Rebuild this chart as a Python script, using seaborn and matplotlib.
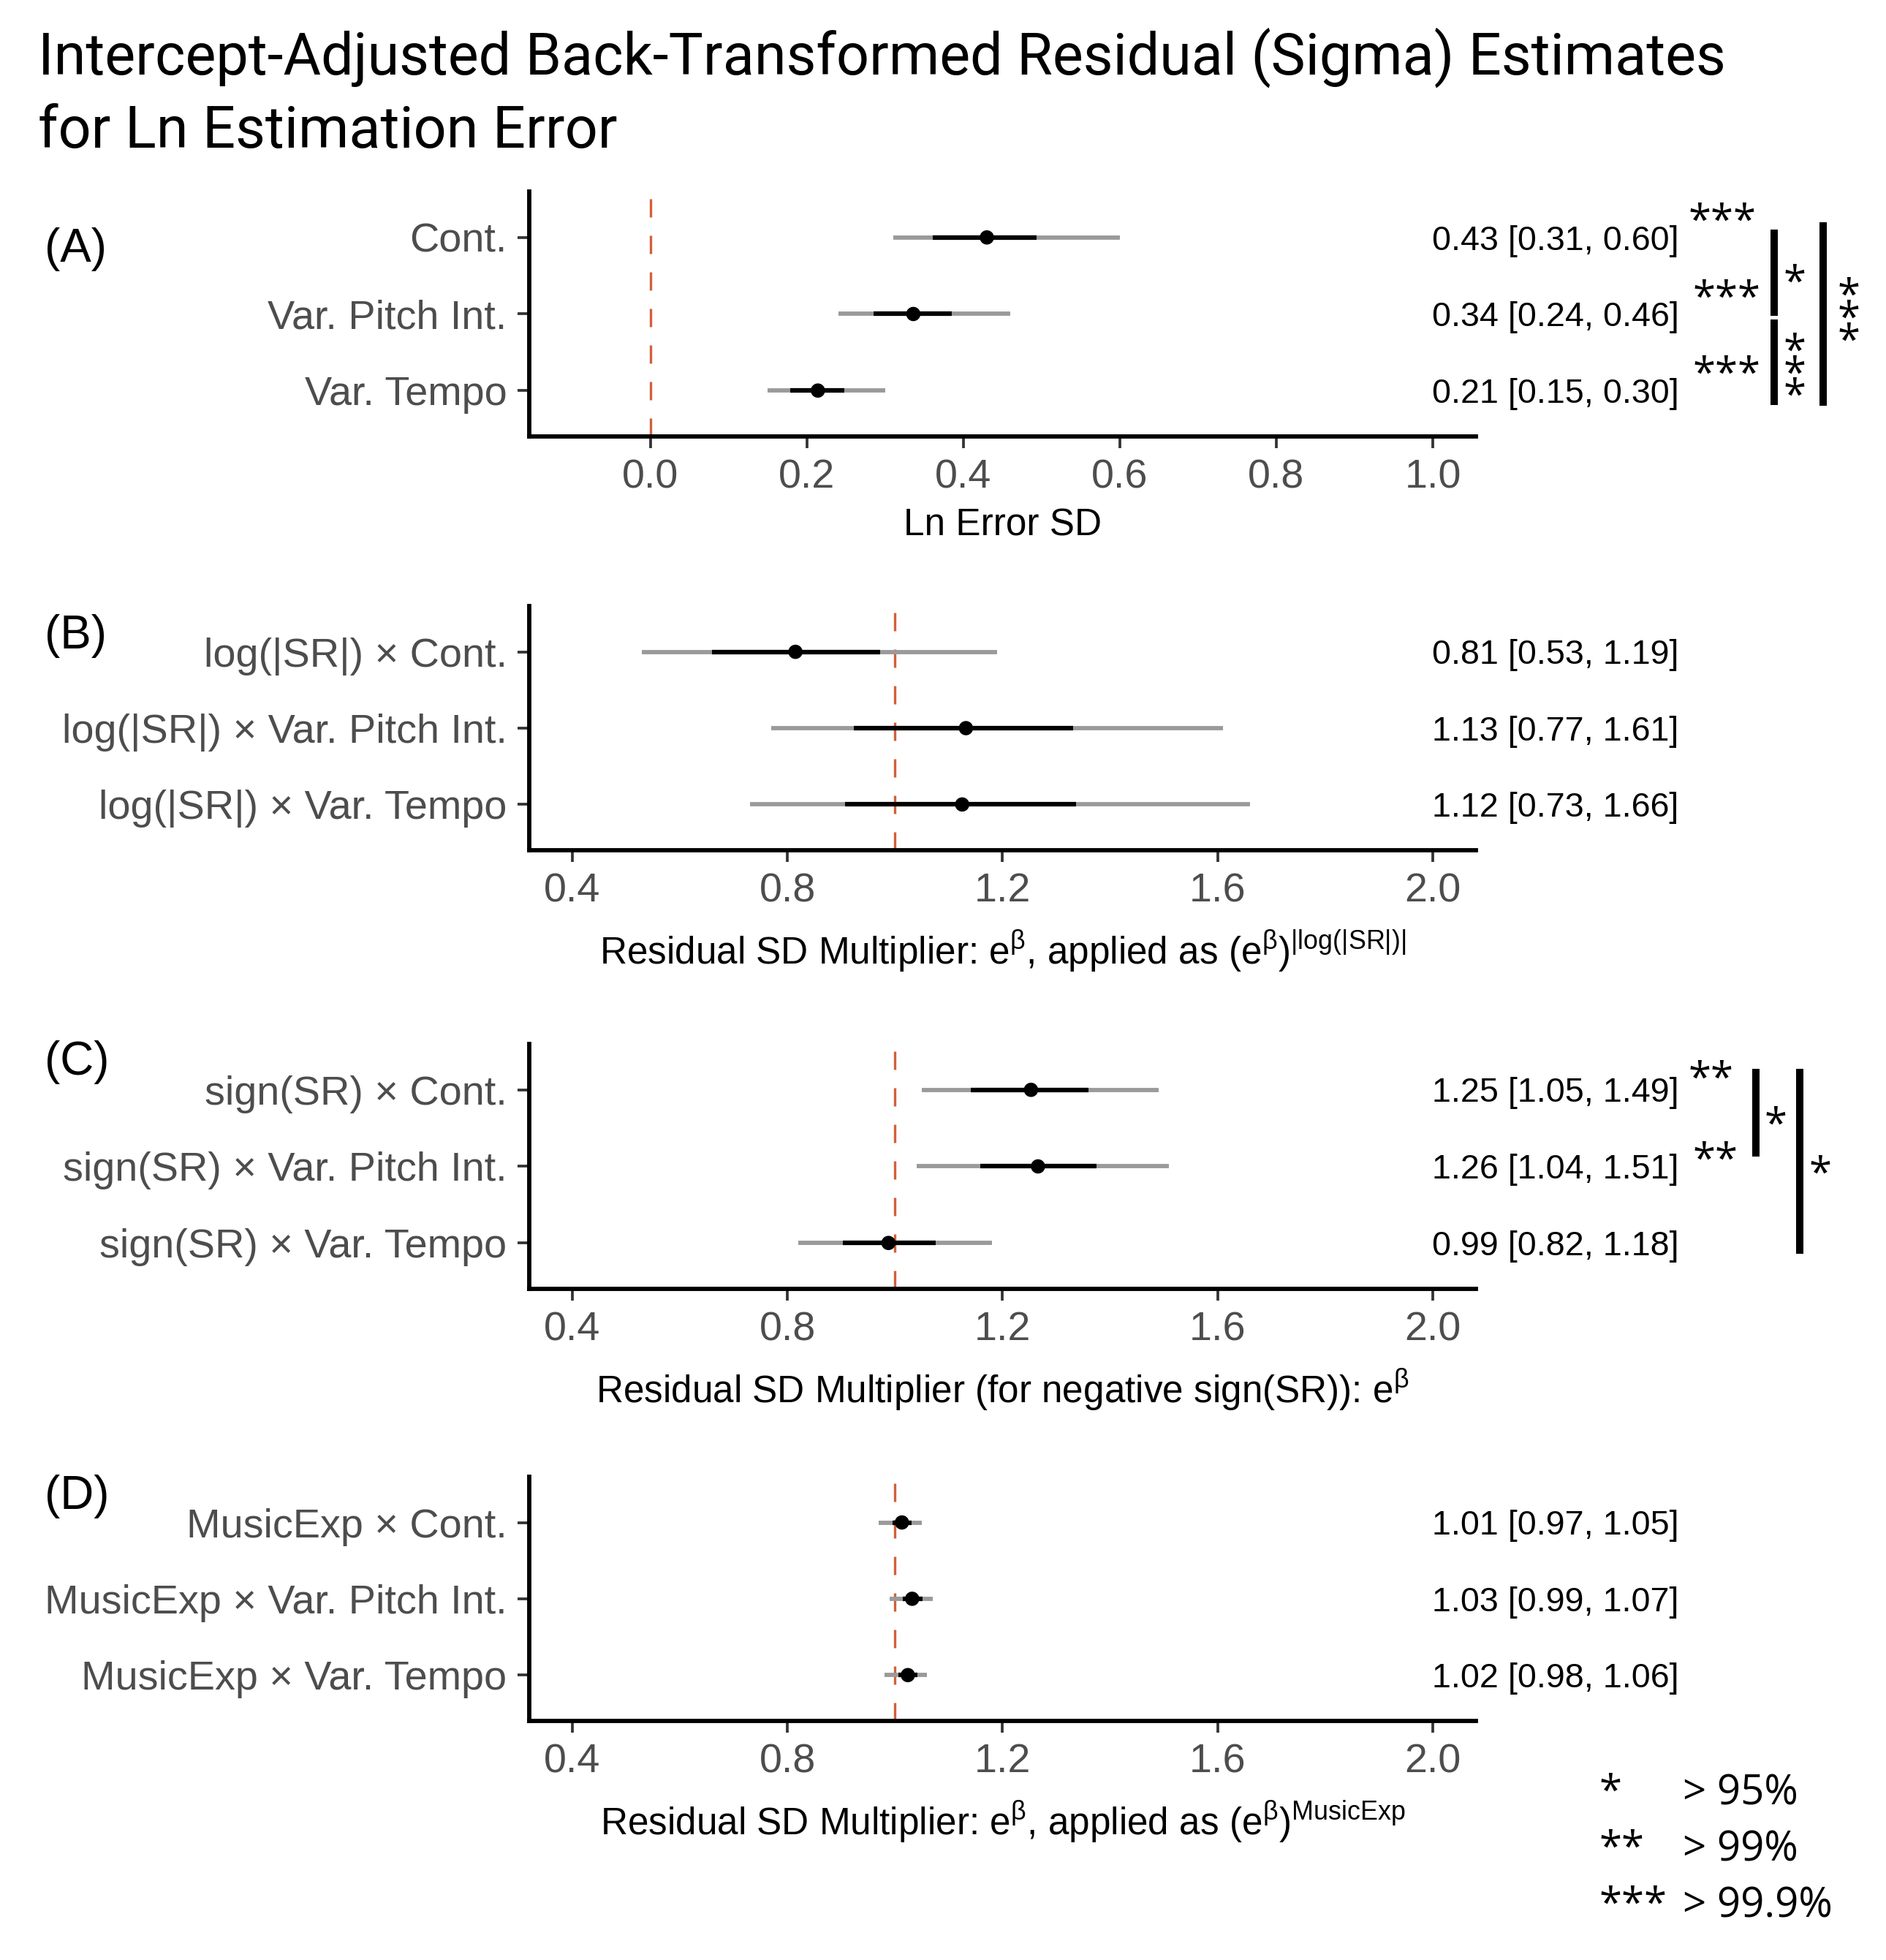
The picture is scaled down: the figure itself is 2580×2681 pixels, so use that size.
import numpy as np
import pandas as pd
import matplotlib
matplotlib.use("Agg")
import matplotlib.pyplot as plt
import matplotlib.transforms as mtransforms
import seaborn as sns

# ---- data ----
conditions = ["Cont.", "Var. Pitch Int.", "Var. Tempo"]

# (A) sigma estimates, back-transformed
a_est = [0.43, 0.336, 0.214]
a_lo95 = [0.31, 0.24, 0.15]
a_hi95 = [0.60, 0.46, 0.30]
a_lo_in = [0.361, 0.285, 0.179]
a_hi_in = [0.494, 0.385, 0.248]
a_ci_text = ["0.43 [0.31, 0.60]", "0.34 [0.24, 0.46]", "0.21 [0.15, 0.30]"]

# (B) log(|SR|) x condition
b_est = [0.815, 1.132, 1.125]
b_lo95 = [0.53, 0.77, 0.73]
b_hi95 = [1.19, 1.61, 1.66]
b_lo_in = [0.660, 0.923, 0.907]
b_hi_in = [0.972, 1.331, 1.337]
b_ci_text = ["0.81 [0.53, 1.19]", "1.13 [0.77, 1.61]", "1.12 [0.73, 1.66]"]

# (C) sign(SR) x condition
c_est = [1.253, 1.266, 0.988]
c_lo95 = [1.05, 1.04, 0.82]
c_hi95 = [1.49, 1.51, 1.18]
c_lo_in = [1.141, 1.159, 0.903]
c_hi_in = [1.360, 1.375, 1.076]
c_ci_text = ["1.25 [1.05, 1.49]", "1.26 [1.04, 1.51]", "0.99 [0.82, 1.18]"]

# (D) MusicExp x condition
d_est = [1.013, 1.032, 1.024]
d_lo95 = [0.97, 0.99, 0.98]
d_hi95 = [1.05, 1.07, 1.06]
d_lo_in = [0.995, 1.015, 1.006]
d_hi_in = [1.031, 1.051, 1.042]
d_ci_text = ["1.01 [0.97, 1.05]", "1.03 [0.99, 1.07]", "1.02 [0.98, 1.06]"]

a_ticks = [0.0, 0.2, 0.4, 0.6, 0.8, 1.0]
bcd_ticks = [0.4, 0.8, 1.2, 1.6, 2.0]

sig_levels = ["*", "**", "***"]
sig_text = ["> 95%", "> 99%", "> 99.9%"]

# ---- style ----
sns.set_theme(style="ticks")
plt.rcParams["font.family"] = ["Liberation Sans", "DejaVu Sans"]
plt.rcParams["text.color"] = "black"
plt.rcParams["mathtext.fontset"] = "custom"
plt.rcParams["mathtext.rm"] = "Liberation Sans"
plt.rcParams["mathtext.it"] = "Liberation Sans:italic"
plt.rcParams["mathtext.bf"] = "Liberation Sans:bold"

RED = "#D2603A"
GREY = "#9A9A9A"
TICK_COL = "#4D4D4D"
ANNOT_FONT = ["Open Sans", "DejaVu Sans"]

W, H = 2580, 2681
fig = plt.figure(figsize=(W / 300, H / 300), dpi=300)

# axes rectangles (figure fraction)
ax_left, ax_w = 0.2806, 0.5019
rects = [
    (ax_left, 0.7773, ax_w, 0.1250),
    (ax_left, 0.5662, ax_w, 0.1246),
    (ax_left, 0.3424, ax_w, 0.1250),
    (ax_left, 0.1220, ax_w, 0.1246),
]


def draw_panel(ax, prefix, est, lo95, hi95, lo_in, hi_in, ci_text, ref, xlim, ticks, xlabel, pad):
    df = pd.DataFrame({
        "term": [prefix + c for c in conditions],
        "est": est, "lo95": lo95, "hi95": hi95, "lo_in": lo_in, "hi_in": hi_in,
    })
    df["pos"] = np.arange(len(df))

    # reference line, 95% interval (grey), inner interval (black), estimate (dot)
    ax.axvline(ref, color=RED, lw=0.8, ls=(0, (7.5, 7.5)), zorder=1)
    ax.hlines(df["pos"], df["lo95"], df["hi95"], color=GREY, lw=1.4, zorder=2)
    ax.hlines(df["pos"], df["lo_in"], df["hi_in"], color="black", lw=1.5, zorder=3)
    sns.scatterplot(data=df, x="est", y="pos", color="black", s=22, edgecolor="none",
                    zorder=4, legend=False, ax=ax)

    ax.set_ylim(len(df) - 0.4, -0.6)
    ax.set_yticks(df["pos"], df["term"])
    ax.set_xlim(*xlim)
    ax.set_xticks(ticks, [f"{t:.1f}" for t in ticks])
    ax.set_ylabel("")
    ax.set_xlabel(xlabel, fontsize=12.3, color="black", labelpad=pad)

    sns.despine(ax=ax)
    for side in ["left", "bottom"]:
        ax.spines[side].set_linewidth(1.4)
        ax.spines[side].set_color("black")
    ax.tick_params(length=3.8, width=0.9, color="#333333", labelsize=13.4,
                   labelcolor=TICK_COL, pad=3.5)

    trans = mtransforms.blended_transform_factory(ax.transAxes, ax.transData)
    for p, txt in zip(df["pos"], ci_text):
        ax.text(1.2147, p + 0.16, txt, transform=trans, ha="right", va="baseline",
                fontsize=11.2, color="black")
    return trans


beta = r"$\mathregular{e^{\beta}}$"
axA = fig.add_axes(rects[0])
tA = draw_panel(axA, "", a_est, a_lo95, a_hi95, a_lo_in, a_hi_in, a_ci_text, 0.0,
                (-0.155, 1.055), a_ticks, "Ln Error SD", 3.6)
axB = fig.add_axes(rects[1])
tB = draw_panel(axB, "log(|SR|) × ", b_est, b_lo95, b_hi95, b_lo_in, b_hi_in, b_ci_text, 1.0,
                (0.32, 2.08), bcd_ticks,
                "Residual SD Multiplier: " + beta + r", applied as $\mathregular{(e^{\beta})^{|log(|SR|)|}}$",
                6)
axC = fig.add_axes(rects[2])
tC = draw_panel(axC, "sign(SR) × ", c_est, c_lo95, c_hi95, c_lo_in, c_hi_in, c_ci_text, 1.0,
                (0.32, 2.08), bcd_ticks,
                "Residual SD Multiplier (for negative sign(SR)): " + beta, 6)
axD = fig.add_axes(rects[3])
tD = draw_panel(axD, "MusicExp × ", d_est, d_lo95, d_hi95, d_lo_in, d_hi_in, d_ci_text, 1.0,
                (0.32, 2.08), bcd_ticks,
                "Residual SD Multiplier: " + beta + r", applied as $\mathregular{(e^{\beta})^{MusicExp}}$",
                6)


def stars(ax, trans, x, y, s, ha="left"):
    ax.text(x, y, s, transform=trans, ha=ha, va="baseline",
            fontsize=13.5, family=ANNOT_FONT, color="black", clip_on=False)


def vstars(ax, trans, x, y, n):
    # stacked asterisks written as one text
    ax.text(x, y, "\n".join(["*"] * n), transform=trans, ha="center", va="center",
            multialignment="center", linespacing=0.39,
            fontsize=13.5, family=ANNOT_FONT, color="black", clip_on=False)


def bar(ax, trans, x, y0, y1):
    ax.plot([x, x], [y0, y1], transform=trans, color="black", lw=2.4,
            solid_capstyle="butt", clip_on=False)


# panel A significance
for i, s in enumerate(["***", "***", "***"]):
    stars(axA, tA, 1.2247 if i == 0 else 1.2293, i - 0.05, s)
bar(axA, tA, 1.315, -0.105, 1.024)
bar(axA, tA, 1.315, 1.072, 2.19)
bar(axA, tA, 1.367, -0.2, 2.2)
stars(axA, tA, 1.337, 0.75, "*", ha="center")
vstars(axA, tA, 1.337, 1.805, 3)
vstars(axA, tA, 1.394, 1.085, 3)

# panel C significance
stars(axC, tC, 1.2247, 0.02, "**")
stars(axC, tC, 1.2293, 1.08, "**")
bar(axC, tC, 1.2958, -0.27, 0.87)
bar(axC, tC, 1.342, -0.27, 2.14)
stars(axC, tC, 1.317, 0.62, "*", ha="center")
stars(axC, tC, 1.364, 1.26, "*", ha="center")

# panel letters
for lab, y in zip(["(A)", "(B)", "(C)", "(D)"], [0.8728, 0.6755, 0.458, 0.2365]):
    fig.text(0.0236, y, lab, ha="left", va="center", fontsize=15.3, color="black")

# title
title_font = ["Roboto", "DejaVu Sans"]
fig.text(0.0200, 0.962, "Intercept-Adjusted Back-Transformed Residual (Sigma) Estimates",
         ha="left", va="baseline", fontsize=19, family=title_font, color="black")
fig.text(0.0200, 0.9247, "for Ln Estimation Error",
         ha="left", va="baseline", fontsize=19, family=title_font, color="black")

# significance key
for lvl, txt, yb in zip(sig_levels, sig_text, [0.0794, 0.0507, 0.0220]):
    fig.text(0.8477, yb, lvl, ha="left", va="baseline", fontsize=13.5, family=ANNOT_FONT,
             color="black")
    fig.text(0.8922, yb, txt, ha="left", va="baseline", fontsize=13.5, family=ANNOT_FONT,
             color="black")

fig.savefig("out.png", dpi=300)
